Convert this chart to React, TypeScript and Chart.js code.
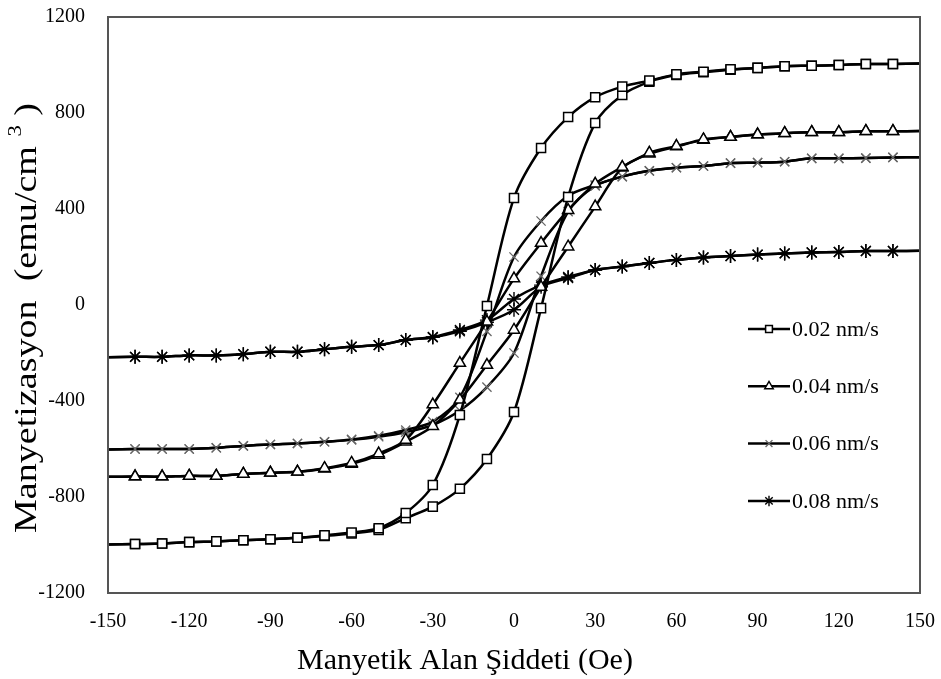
import React, { useEffect, useRef } from 'react';
import { Chart, registerables } from 'chart.js';

Chart.register(...registerables);

// Field values (Oe)
const fields = [-150, -140, -130, -120, -110, -100, -90, -80, -70, -60, -50, -40, -30, -20, -10, 0, 10, 20, 30, 40, 50, 60, 70, 80, 90, 100, 110, 120, 130, 140, 150];

// Series labels
const seriesLabels = ['0.02 nm/s', '0.04 nm/s', '0.06 nm/s', '0.08 nm/s'];

// Magnetization (emu/cm3) — upper (descending-field) and lower (ascending-field) branches
const m002Upper = [-998, -996, -994, -988, -985, -980, -976, -970, -960, -948, -930, -867, -750, -458, -4, 446, 654, 783, 866, 910, 935, 961, 972, 982, 988, 995, 997, 1000, 1004, 1004, 1006];
const m002Lower = [-998, -996, -994, -988, -985, -980, -976, -970, -962, -952, -937, -888, -840, -766, -642, -446, -13, 450, 758, 875, 930, 958, 970, 980, 988, 995, 997, 1000, 1004, 1004, 1006];

const m004Upper = [-716, -715, -715, -712, -712, -704, -699, -695, -680, -658, -619, -562, -415, -242, -70, 110, 258, 395, 505, 575, 634, 662, 690, 700, 710, 716, 720, 720, 724, 724, 725];
const m004Lower = [-716, -715, -715, -712, -712, -704, -699, -695, -682, -662, -625, -570, -505, -395, -250, -104, 75, 243, 410, 572, 630, 660, 688, 700, 710, 716, 720, 720, 724, 724, 725];

const m006Upper = [-602, -600, -600, -600, -595, -587, -581, -577, -570, -560, -545, -521, -486, -385, -110, 200, 350, 455, 500, 535, 559, 572, 579, 591, 593, 597, 611, 611, 612, 615, 616];
const m006Lower = [-602, -600, -600, -600, -595, -587, -581, -577, -570, -562, -549, -530, -500, -440, -342, -200, 120, 389, 496, 535, 559, 572, 579, 591, 593, 597, 611, 611, 612, 615, 616];

const m008Upper = [-218, -216, -216, -210, -210, -205, -195, -195, -184, -174, -167, -146, -133, -104, -63, 25, 83, 117, 146, 160, 175, 188, 198, 204, 210, 215, 219, 221, 225, 225, 226];
const m008Lower = [-218, -216, -216, -210, -210, -205, -195, -195, -184, -174, -167, -146, -135, -110, -72, -20, 76, 112, 146, 160, 175, 188, 198, 204, 210, 215, 219, 221, 225, 225, 226];

// Axis ticks
const xMin = -150, xMax = 150, xStep = 30;
const yMin = -1200, yMax = 1200, yStep = 400;

const xTitle = 'Manyetik Alan Şiddeti (Oe)';
const yTitleMain = 'Manyetizasyon  (emu/cm ';
const yTitleSup = '3';
const yTitleEnd = ' )';

const FONT = '"Liberation Serif", "Times New Roman", serif';

type Style = { pointStyle: any; radius: number; markerColor: string; markerWidth: number; fill: string };
const styles: Style[] = [
  { pointStyle: 'rect', radius: 6.4, markerColor: '#000', markerWidth: 1.5, fill: '#fff' },
  { pointStyle: 'triangle', radius: 6.5, markerColor: '#000', markerWidth: 1.5, fill: '#fff' },
  { pointStyle: 'crossRot', radius: 6.5, markerColor: '#666', markerWidth: 1.3, fill: '#fff' },
  { pointStyle: 'star', radius: 7, markerColor: '#000', markerWidth: 1.4, fill: '#000' },
];

const branches = [
  [m002Upper, m002Lower],
  [m004Upper, m004Lower],
  [m006Upper, m006Lower],
  [m008Upper, m008Lower],
];

function toPoints(vals: number[]) {
  return fields.map((x, i) => ({ x, y: vals[i] }));
}

function drawMarker(ctx: CanvasRenderingContext2D, s: Style, x: number, y: number, r: number) {
  ctx.save();
  ctx.strokeStyle = s.markerColor;
  ctx.fillStyle = s.fill;
  ctx.lineWidth = s.markerWidth;
  ctx.beginPath();
  if (s.pointStyle === 'rect') {
    const h = r * Math.SQRT1_2;
    ctx.rect(x - h, y - h, 2 * h, 2 * h);
    ctx.fill();
    ctx.stroke();
  } else if (s.pointStyle === 'triangle') {
    const e = (r * 3) / Math.sqrt(3);
    const hgt = (e * Math.sqrt(3)) / 2;
    ctx.moveTo(x - e / 2, y + hgt / 3);
    ctx.lineTo(x + e / 2, y + hgt / 3);
    ctx.lineTo(x, y - (2 * hgt) / 3);
    ctx.closePath();
    ctx.fill();
    ctx.stroke();
  } else if (s.pointStyle === 'crossRot') {
    const o = r * Math.SQRT1_2;
    ctx.moveTo(x - o, y - o);
    ctx.lineTo(x + o, y + o);
    ctx.moveTo(x - o, y + o);
    ctx.lineTo(x + o, y - o);
    ctx.stroke();
  } else {
    const o = r * Math.SQRT1_2;
    ctx.moveTo(x - o, y - o);
    ctx.lineTo(x + o, y + o);
    ctx.moveTo(x - o, y + o);
    ctx.lineTo(x + o, y - o);
    ctx.moveTo(x, y - r);
    ctx.lineTo(x, y + r);
    ctx.stroke();
  }
  ctx.restore();
}

const framePlugin = {
  id: 'frameAndTitles',
  afterDatasetsDraw(chart: any) {
    const { ctx, chartArea: a } = chart;
    ctx.save();
    // frame
    ctx.strokeStyle = '#555';
    ctx.lineWidth = 2;
    ctx.strokeRect(a.left, a.top, a.right - a.left, a.bottom - a.top);

    // legend
    const legendTop = a.top + 312;
    const gap = 57.3;
    seriesLabels.forEach((label, i) => {
      const y = legendTop + i * gap;
      const x0 = a.right - 172;
      const x1 = a.right - 130;
      ctx.strokeStyle = '#000';
      ctx.lineWidth = 2.5;
      ctx.beginPath();
      ctx.moveTo(x0, y);
      ctx.lineTo(x1, y);
      ctx.stroke();
      drawMarker(ctx, styles[i], (x0 + x1) / 2, y, styles[i].radius * 0.75);
      ctx.fillStyle = '#000';
      ctx.font = `22px ${FONT}`;
      ctx.textAlign = 'left';
      ctx.textBaseline = 'middle';
      ctx.fillText(label, x1 + 2, y + 1);
    });

    // x title
    ctx.fillStyle = '#000';
    ctx.font = `30px ${FONT}`;
    ctx.textAlign = 'center';
    ctx.textBaseline = 'middle';
    ctx.fillText(xTitle, 465, 661);

    // y title (rotated) with superscript, slightly elongated along its direction
    ctx.save();
    ctx.translate(28, 318);
    ctx.rotate(-Math.PI / 2);
    const big = `32px ${FONT}`;
    const small = `19px ${FONT}`;
    ctx.font = big;
    const w1 = ctx.measureText(yTitleMain).width;
    ctx.font = small;
    const w2 = ctx.measureText(yTitleSup).width;
    ctx.font = big;
    const w3 = ctx.measureText(yTitleEnd).width;
    const total = w1 + w2 + w3;
    const stretch = 430 / total;
    ctx.scale(stretch, 1);
    let x = -total / 2;
    ctx.textAlign = 'left';
    ctx.textBaseline = 'middle';
    ctx.fillText(yTitleMain, x, 0);
    x += w1;
    ctx.font = small;
    ctx.fillText(yTitleSup, x, -12);
    x += w2;
    ctx.font = big;
    ctx.fillText(yTitleEnd, x, 0);
    ctx.restore();

    ctx.restore();
  },
};

export default function App() {
  const ref = useRef<HTMLCanvasElement>(null);
  useEffect(() => {
    const datasets: any[] = [];
    branches.forEach((pair, si) => {
      const s = styles[si];
      pair.forEach((vals, bi) => {
        datasets.push({
          label: seriesLabels[si] + (bi === 0 ? ' ↓' : ' ↑'),
          data: toPoints(vals),
          showLine: true,
          borderColor: '#000',
          borderWidth: 2.5,
          tension: 0.3,
          pointStyle: s.pointStyle,
          pointRadius: (c: any) => (c.raw && Math.abs(c.raw.x) >= 150 ? 0 : s.radius),
          pointHoverRadius: 0,
          pointBorderColor: s.markerColor,
          pointBackgroundColor: s.fill,
          pointBorderWidth: s.markerWidth,
          order: si,
        });
      });
    });
    const chart = new Chart(ref.current!, {
      type: 'scatter',
      data: { datasets },
      options: {
        responsive: false,
        animation: false,
        events: [],
        layout: { padding: { left: 0, right: 21, top: 17, bottom: 0 } },
        plugins: { legend: { display: false }, tooltip: { enabled: false }, title: { display: false } },
        scales: {
          x: {
            type: 'linear',
            min: xMin,
            max: xMax,
            grid: { display: false, drawTicks: false },
            border: { display: false },
            ticks: { stepSize: xStep, color: '#000', padding: 17, font: { family: FONT, size: 20 }, callback: (v: any) => String(v) },
            afterFit: (sc: any) => { sc.height = 86; sc.paddingLeft = 0; sc.paddingRight = 0; },
          },
          y: {
            type: 'linear',
            min: yMin,
            max: yMax,
            grid: { display: false, drawTicks: false },
            border: { display: false },
            ticks: { stepSize: yStep, color: '#000', padding: 23, font: { family: FONT, size: 20 }, callback: (v: any) => String(v) },
            afterFit: (sc: any) => { sc.width = 108; sc.paddingTop = 0; sc.paddingBottom = 0; },
          },
        },
      },
      plugins: [framePlugin],
    });
    return () => chart.destroy();
  }, []);
  return (
    <div style={{ position: 'fixed', left: 0, top: 0, width: 941, height: 679, background: '#fff' }}>
      <canvas ref={ref} width={941} height={679} style={{ display: 'block' }} />
    </div>
  );
}
